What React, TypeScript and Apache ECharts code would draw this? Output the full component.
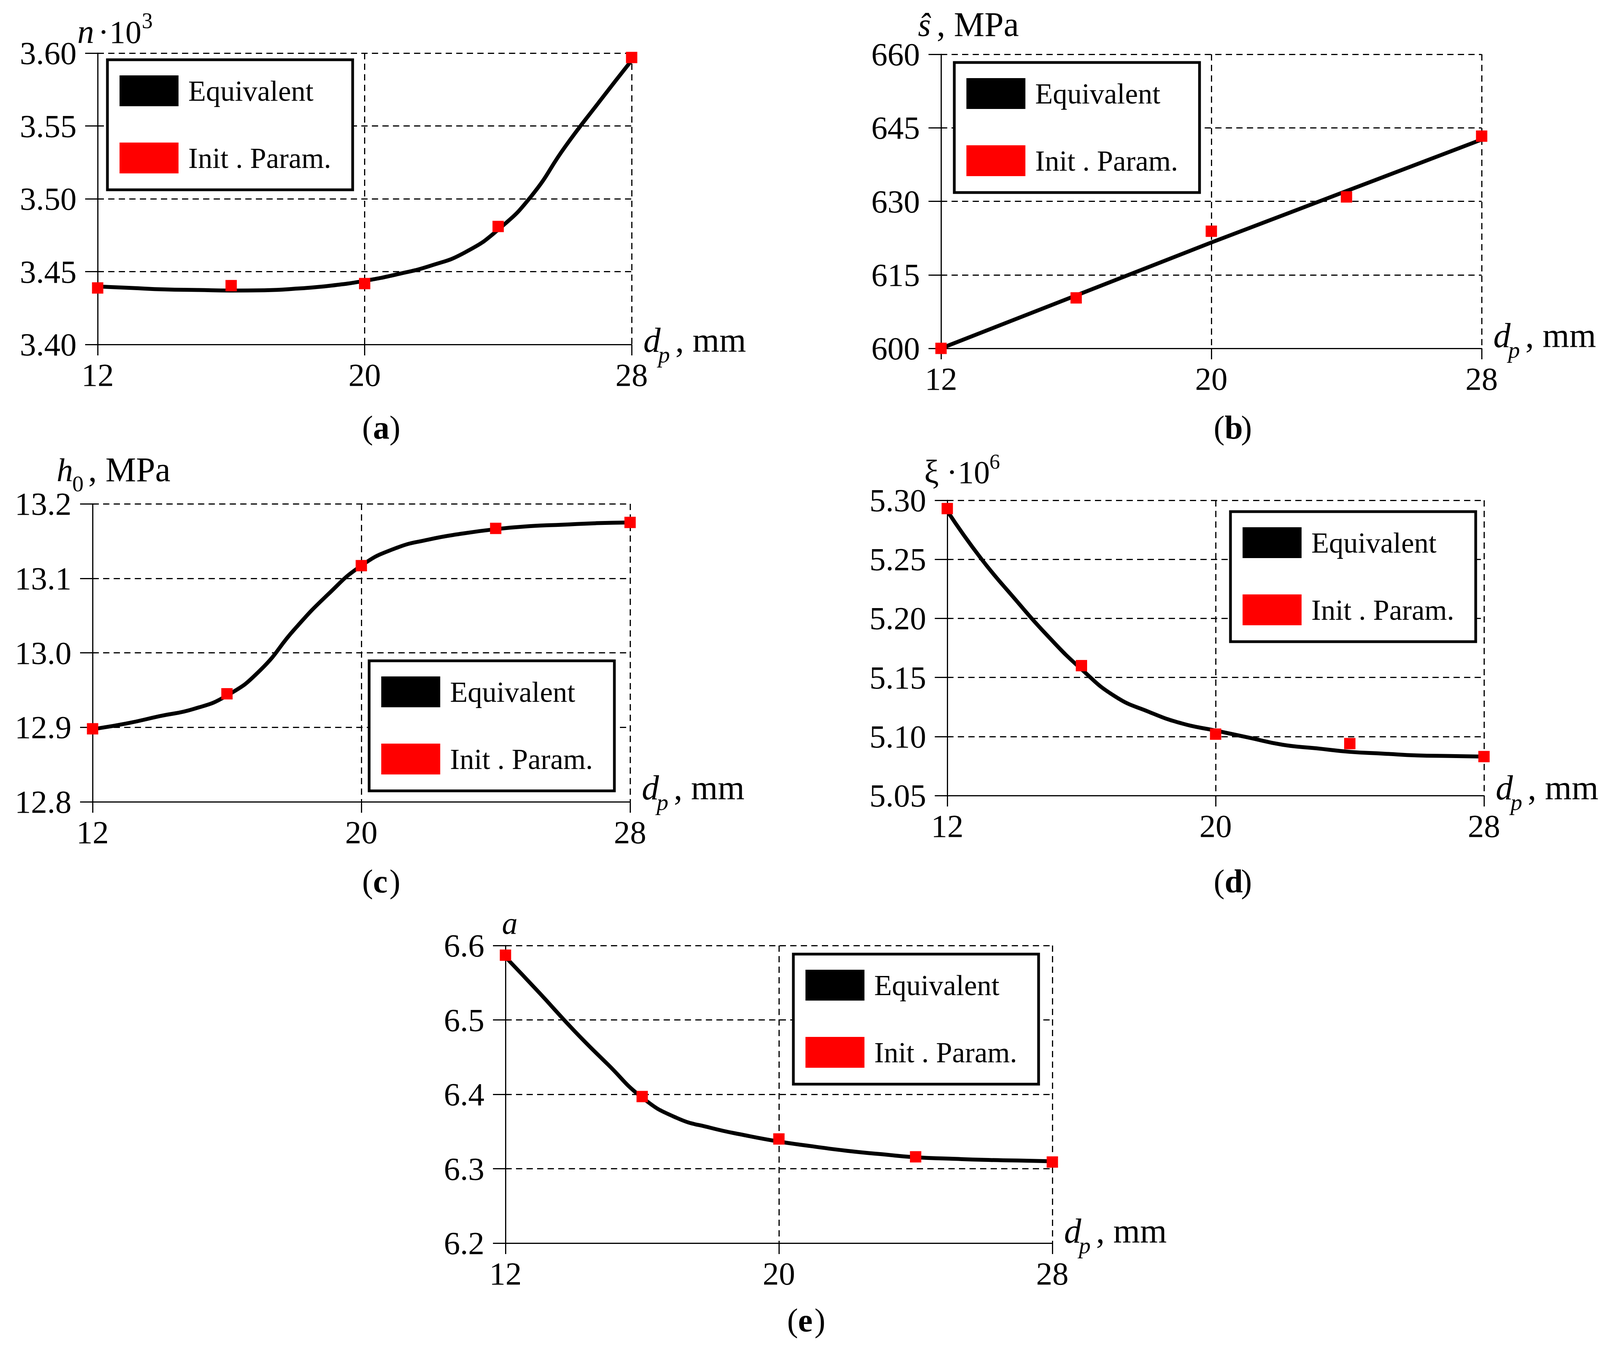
import React, { useEffect, useRef } from 'react';
import * as echarts from 'echarts';

// ---------- data ----------
const dpMarkers = [12, 16, 20, 24, 28];

// (a) n·10^3
const aCurveX = [12, 13, 14, 15, 16, 17, 18, 19, 20, 21, 22, 23, 24, 25, 26, 27, 28];
const aCurveY = [3.4398, 3.4388, 3.4378, 3.4374, 3.437, 3.4372, 3.4384, 3.4404, 3.4437, 3.4483, 3.4542, 3.4631, 3.4788, 3.502, 3.5355, 3.5657, 3.595];
const aInit = [3.4388, 3.4404, 3.4418, 3.481, 3.597];

// (b) s-hat, MPa
const bCurveX = [12, 20, 28];
const bCurveY = [600, 621.6, 642.6];
const bInit = [600.0, 610.3, 623.9, 630.9, 643.3];

// (c) h0, MPa
const cCurveX = [12, 13, 14, 15, 16, 17, 18, 19, 20, 21, 22, 23, 24, 25, 26, 27, 28];
const cCurveY = [12.8975, 12.905, 12.915, 12.9245, 12.9426, 12.977, 13.031, 13.078, 13.117, 13.14, 13.152, 13.16, 13.166, 13.17, 13.172, 13.174, 13.175];
const cInit = [12.898, 12.945, 13.117, 13.167, 13.175];

// (d) xi·10^6
const dCurveX = [12, 13, 14, 15, 16, 17, 18, 19, 20, 21, 22, 23, 24, 25, 26, 27, 28];
const dCurveY = [5.291, 5.251, 5.217, 5.185, 5.157, 5.134, 5.121, 5.111, 5.105, 5.099, 5.093, 5.09, 5.087, 5.0855, 5.084, 5.0835, 5.083];
const dInit = [5.293, 5.16, 5.102, 5.094, 5.083];

// (e) a
const eCurveX = [12, 13, 14, 15, 16, 17, 18, 19, 20, 21, 22, 23, 24, 25, 26, 27, 28];
const eCurveY = [6.5846, 6.536, 6.486, 6.44, 6.3956, 6.3685, 6.355, 6.345, 6.3365, 6.33, 6.324, 6.3195, 6.3153, 6.3135, 6.3119, 6.311, 6.31];
const eInit = [6.587, 6.397, 6.34, 6.316, 6.309];

// axis ranges
const yMins = [3.4, 600, 12.8, 5.05, 6.2];
const yMaxs = [3.6, 660, 13.2, 5.3, 6.6];
const yIntervals = [0.05, 15, 0.1, 0.05, 0.1];
const yDecimals = [2, 0, 1, 2, 1];
const xMin = 12;
const xMax = 28;
const xInterval = 8;

const legendNames = ['Equivalent', 'Init . Param.'];
const subLabels = ['a', 'b', 'c', 'd', 'e'];

const curvesX = [aCurveX, bCurveX, cCurveX, dCurveX, eCurveX];
const curvesY = [aCurveY, bCurveY, cCurveY, dCurveY, eCurveY];
const initY = [aInit, bInit, cInit, dInit, eInit];
const smoothFlags = [0.5, false, 0.5, 0.5, 0.5];

// ---------- layout ----------
const layouts = [
  { L: 250, T: 136, R: 1617, B: 882, lgX: 275, lgY: 153, nameDy: 19, subX: 976, subY: 1102 },
  { L: 2409, T: 139, R: 3793, B: 892, lgX: 2443, lgY: 160, nameDy: -3, subX: 3156, subY: 1102 },
  { L: 237, T: 1290, R: 1613, B: 2053, lgX: 945, lgY: 1692, nameDy: -6, subX: 976, subY: 2264 },
  { L: 2425, T: 1281, R: 3799, B: 2037, lgX: 3150, lgY: 1310, nameDy: 10, subX: 3156, subY: 2264 },
  { L: 1294, T: 2421, R: 2694, B: 3183, lgX: 2031, lgY: 2443, nameDy: -1, subX: 2064, subY: 3388 },
];

const FAMILY = 'Liberation Serif';

function txt(text: string, x: number, base: number, fs: number, fstyle = 'normal', weight = 'normal') {
  return {
    type: 'text',
    z: 100,
    silent: true,
    style: {
      text,
      x,
      y: base - 0.34 * fs,
      font: `${fstyle} ${weight} ${fs}px ${FAMILY}`,
      fill: '#000',
      textAlign: 'left',
      textVerticalAlign: 'middle',
      align: 'left',
      verticalAlign: 'middle',
    },
  };
}

function buildOption() {
  const grid: any[] = [];
  const xAxis: any[] = [];
  const yAxis: any[] = [];
  const series: any[] = [];
  const legend: any[] = [];
  const graphic: any[] = [];

  const dash = [16, 11];

  layouts.forEach((p, i) => {
    grid.push({
      left: p.L,
      top: p.T,
      width: p.R - p.L,
      height: p.B - p.T,
      containLabel: false,
      outerBoundsMode: 'none',
    });
    xAxis.push({
      type: 'value',
      gridIndex: i,
      min: xMin,
      max: xMax,
      interval: xInterval,
      axisLine: { show: true, onZero: false, lineStyle: { color: '#000', width: 3 } },
      axisTick: { show: true, inside: false, length: 28, lineStyle: { color: '#000', width: 3 } },
      axisLabel: { show: true, fontSize: 83, fontFamily: FAMILY, color: '#000', margin: 36 },
      splitLine: { show: true, lineStyle: { color: '#000', width: 3, type: dash } },
    });
    const dec = yDecimals[i];
    yAxis.push({
      type: 'value',
      gridIndex: i,
      position: 'left',
      min: yMins[i],
      max: yMaxs[i],
      interval: yIntervals[i],
      axisLine: { show: true, onZero: false, lineStyle: { color: '#000', width: 3 } },
      axisTick: { show: true, inside: false, length: 32, lineStyle: { color: '#000', width: 3 } },
      axisLabel: {
        show: true,
        fontSize: 83,
        fontFamily: FAMILY,
        color: '#000',
        margin: 54,
        formatter: (v: number) => v.toFixed(dec),
      },
      splitLine: { show: true, lineStyle: { color: '#000', width: 3, type: dash } },
    });
    yAxis.push({
      type: 'value',
      gridIndex: i,
      position: 'left',
      min: yMins[i],
      max: yMaxs[i],
      interval: yIntervals[i],
      axisLine: { show: false },
      axisTick: { show: true, inside: true, length: 15, lineStyle: { color: '#000', width: 3 } },
      axisLabel: { show: false },
      splitLine: { show: false },
    });

    series.push({
      name: legendNames[0],
      type: 'line',
      xAxisIndex: i,
      yAxisIndex: 2 * i,
      data: curvesX[i].map((x, k) => [x, curvesY[i][k]]),
      smooth: smoothFlags[i],
      showSymbol: false,
      symbol: 'none',
      clip: false,
      color: '#000',
      lineStyle: { color: '#000', width: 10, opacity: 1 },
      itemStyle: { color: '#000', opacity: 1 },
      z: 3,
    });
    series.push({
      name: legendNames[1],
      type: 'scatter',
      xAxisIndex: i,
      yAxisIndex: 2 * i,
      data: dpMarkers.map((x, k) => [x, initY[i][k]]),
      symbol: 'rect',
      symbolSize: 29,
      clip: false,
      color: '#ff0000',
      itemStyle: { color: '#ff0000', opacity: 1 },
      z: 4,
    });

    legend.push({
      left: p.lgX,
      top: p.lgY,
      orient: 'vertical',
      icon: 'rect',
      itemWidth: 151,
      itemHeight: 79,
      itemGap: 93,
      borderColor: '#000',
      borderWidth: 7,
      borderRadius: 0,
      backgroundColor: '#fff',
      padding: [40, 55, 42, 31],
      selectedMode: false,
      itemStyle: { opacity: 1 },
      textStyle: { fontSize: 74, fontFamily: FAMILY, color: '#000', padding: [0, 0, 0, 20] },
      data: legendNames,
      z: 10,
    });

    // x-axis name: d_p , mm
    const nb = p.B + p.nameDy;
    graphic.push(txt('d', p.R + 30, nb, 88, 'italic'));
    graphic.push(txt('p', p.R + 68, nb + 27, 60, 'italic'));
    graphic.push(txt(', mm', p.R + 112, nb, 88));

    // sub label (x)
    const sb = p.subY + 21;
    graphic.push(txt('(', p.subX - 49, sb, 84));
    graphic.push(txt(subLabels[i], p.subX - 21, sb, 84, 'normal', 'bold'));
    graphic.push(txt(')', p.subX + 21, sb, 84));
  });

  // y-axis titles
  graphic.push(txt('n', 198, 110, 86, 'italic'));
  graphic.push(txt('·', 251, 110, 84));
  graphic.push(txt('10', 280, 110, 82));
  graphic.push(txt('3', 363, 72, 56));

  graphic.push(txt('ŝ', 2350, 92, 84, 'italic'));
  graphic.push(txt(', MPa', 2398, 92, 88));

  graphic.push(txt('h', 145, 1232, 84, 'italic'));
  graphic.push(txt('0', 185, 1258, 58));
  graphic.push(txt(', MPa', 226, 1232, 88));

  graphic.push(txt('ξ', 2366, 1237, 84));
  graphic.push(txt('·', 2423, 1237, 84));
  graphic.push(txt('10', 2452, 1237, 82));
  graphic.push(txt('6', 2533, 1200, 54));

  graphic.push(txt('a', 1285, 2391, 80, 'italic'));

  return {
    animation: false,
    backgroundColor: '#fff',
    textStyle: { fontFamily: FAMILY, color: '#000' },
    grid,
    xAxis,
    yAxis,
    series,
    legend,
    graphic,
  };
}

export default function App() {
  const ref = useRef<HTMLDivElement>(null);
  useEffect(() => {
    if (!ref.current) return;
    const chart = echarts.init(ref.current, undefined, { renderer: 'svg' });
    chart.setOption(buildOption() as any);
    return () => {
      chart.dispose();
    };
  }, []);
  return (
    <div
      ref={ref}
      style={{ position: 'fixed', left: 0, top: 0, width: 4139, height: 3449, background: '#fff' }}
    />
  );
}
